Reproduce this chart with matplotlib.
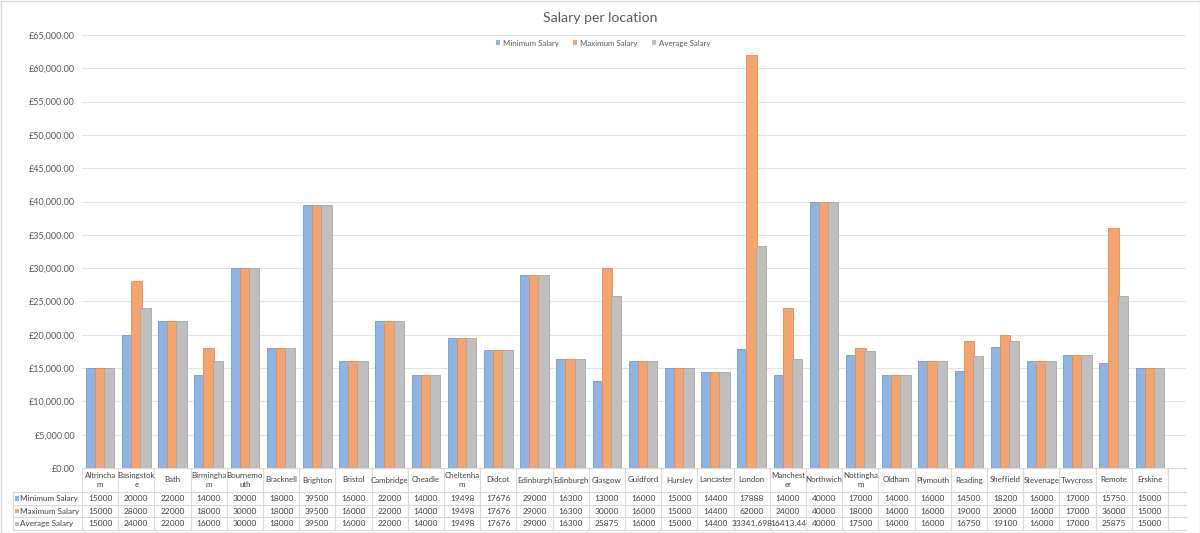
import matplotlib
matplotlib.use("Agg")
import matplotlib.pyplot as plt
import numpy as np
from matplotlib.transforms import blended_transform_factory
from matplotlib.patches import Rectangle
from matplotlib.ticker import FuncFormatter, MultipleLocator

plt.rcParams['font.family'] = ['Lato', 'DejaVu Sans']

locations = ["Altrincham", "Basingstoke", "Bath", "Birmingham", "Bournemouth", "Bracknell",
             "Brighton", "Bristol", "Cambridge", "Cheadle", "Cheltenham", "Didcot", "Edinburgh",
             "Edinburgh", "Glasgow", "Guidford", "Hursley", "Lancaster", "London", "Manchester",
             "Northwich", "Nottingham", "Oldham", "Plymouth", "Reading", "Sheffield", "Stevenage",
             "Twycross", "Remote", "Erskine"]
header_labels = ["Altrincha\nm", "Basingstok\ne", "Bath", "Birmingha\nm", "Bournemo\nuth", "Bracknell",
                 "Brighton", "Bristol", "Cambridge", "Cheadle", "Cheltenha\nm", "Didcot", "Edinburgh",
                 "Edinburgh", "Glasgow", "Guidford", "Hursley", "Lancaster", "London", "Manchest\ner",
                 "Northwich", "Nottingha\nm", "Oldham", "Plymouth", "Reading", "Sheffield", "Stevenage",
                 "Twycross", "Remote", "Erskine"]
min_salary = [15000, 20000, 22000, 14000, 30000, 18000, 39500, 16000, 22000, 14000, 19498, 17676,
              29000, 16300, 13000, 16000, 15000, 14400, 17888, 14000, 40000, 17000, 14000, 16000,
              14500, 18200, 16000, 17000, 15750, 15000]
max_salary = [15000, 28000, 22000, 18000, 30000, 18000, 39500, 16000, 22000, 14000, 19498, 17676,
              29000, 16300, 30000, 16000, 15000, 14400, 62000, 24000, 40000, 18000, 14000, 16000,
              19000, 20000, 16000, 17000, 36000, 15000]
avg_salary = [15000, 24000, 22000, 16000, 30000, 18000, 39500, 16000, 22000, 14000, 19498, 17676,
              29000, 16300, 25875, 16000, 15000, 14400, 33341.698, 16413.44, 40000, 17500, 14000, 16000,
              16750, 19100, 16000, 17000, 25875, 15000]
avg_text = ["15000", "24000", "22000", "16000", "30000", "18000", "39500", "16000", "22000", "14000",
            "19498", "17676", "29000", "16300", "25875", "16000", "15000", "14400", "33341.698",
            "16413.44", "40000", "17500", "14000", "16000", "16750", "19100", "16000", "17000",
            "25875", "15000"]
series_names = ["Minimum Salary", "Maximum Salary", "Average Salary"]
colors = ["#8DB4E2", "#F4A46C", "#BFBFBF"]
edges = ["#6E9AD0", "#E88A4C", "#A6A6A6"]

W, H = 1200, 533
fig = plt.figure(figsize=(W / 100, H / 100), dpi=100)

def fy(py):
    return 1 - py / H

ax_left, ax_right, ax_top, ax_bottom = 82, 1186, 35, 468
ax = fig.add_axes([ax_left / W, fy(ax_bottom), (ax_right - ax_left) / W, (ax_bottom - ax_top) / H])

n = len(locations)
x = np.arange(n)
step = 0.25
width = 0.29
for i, vals in enumerate([min_salary, max_salary, avg_salary]):
    ax.bar(x + (i - 1) * step, vals, width=width, color=colors[i], edgecolor=edges[i],
           linewidth=0.6, zorder=2 + i, label=series_names[i])

col_w = (ax_right - ax_left) / 36.2
ax.set_xlim(-0.5, -0.5 + col_w)
ax.set_ylim(0, 65000)
ax.yaxis.set_major_locator(MultipleLocator(5000))
ax.yaxis.set_major_formatter(FuncFormatter(lambda v, p: "£{:,.2f}".format(v)))
ax.grid(axis='y', color='#E3E3E3', linewidth=0.8, zorder=0)
ax.set_axisbelow(True)
for s in ax.spines.values():
    s.set_visible(False)
ax.tick_params(axis='y', length=0, labelsize=6.5, labelcolor='#595959', pad=5)
ax.tick_params(axis='x', bottom=False, labelbottom=False)

fig.text(0.5, fy(18), "Salary per location", ha='center', va='center', fontsize=10.1, color='#595959')
leg = ax.legend(loc='center', bbox_to_anchor=(603 / W, fy(43)), bbox_transform=fig.transFigure,
                ncol=3, frameon=False, fontsize=5.7, handlelength=0.55, handleheight=0.55,
                handletextpad=0.35, columnspacing=1.8, labelcolor='#595959')
for h in leg.legend_handles:
    h.set_edgecolor('none')

# data table
tr = blended_transform_factory(ax.transData, fig.transFigure)
row_y = [468, 492, 504.8, 517.4, 530]
lc = '#D9D9D9'
left_px = 13
left_data = -0.5 + (left_px - ax_left) / 36.2
right_data = ax.get_xlim()[1]
ax.plot([-0.5, right_data], [fy(row_y[0])] * 2, transform=tr, color=lc, lw=0.8, clip_on=False)
for yy in row_y[1:]:
    ax.plot([left_data, right_data], [fy(yy)] * 2, transform=tr, color=lc, lw=0.8, clip_on=False)
for k in range(n + 1):
    xx = k - 0.5
    ax.plot([xx, xx], [fy(row_y[0]), fy(row_y[-1])], transform=tr, color=lc, lw=0.8, clip_on=False)
ax.plot([left_data, left_data], [fy(row_y[1]), fy(row_y[-1])], transform=tr, color=lc, lw=0.8, clip_on=False)

tcol = '#404040'
for k in range(n):
    ax.text(k, fy((row_y[0] + row_y[1]) / 2), header_labels[k], transform=tr, ha='center', va='center',
            fontsize=5.7, color=tcol, linespacing=1.35, clip_on=False)
rows_text = [[str(v) for v in min_salary], [str(v) for v in max_salary], avg_text]
for r in range(3):
    yc = fy((row_y[r + 1] + row_y[r + 2]) / 2)
    for k in range(n):
        ax.text(k, yc, rows_text[r][k], transform=tr, ha='center', va='center', fontsize=6.0,
                color=tcol, clip_on=False)
    fig.patches.append(Rectangle((15 / W, yc - 2.2 / H), 4 / W, 4.4 / H,
                                 transform=fig.transFigure, facecolor=colors[r], edgecolor='none'))
    fig.text(20 / W, yc, series_names[r], ha='left', va='center', fontsize=5.9, color=tcol)

fig.patches.append(Rectangle((0.5 / W, 0.5 / H), (W - 1) / W, (H - 1) / H, transform=fig.transFigure,
                             facecolor='none', edgecolor='#D9D9D9', lw=1))

fig.savefig("out.png", dpi=100)
